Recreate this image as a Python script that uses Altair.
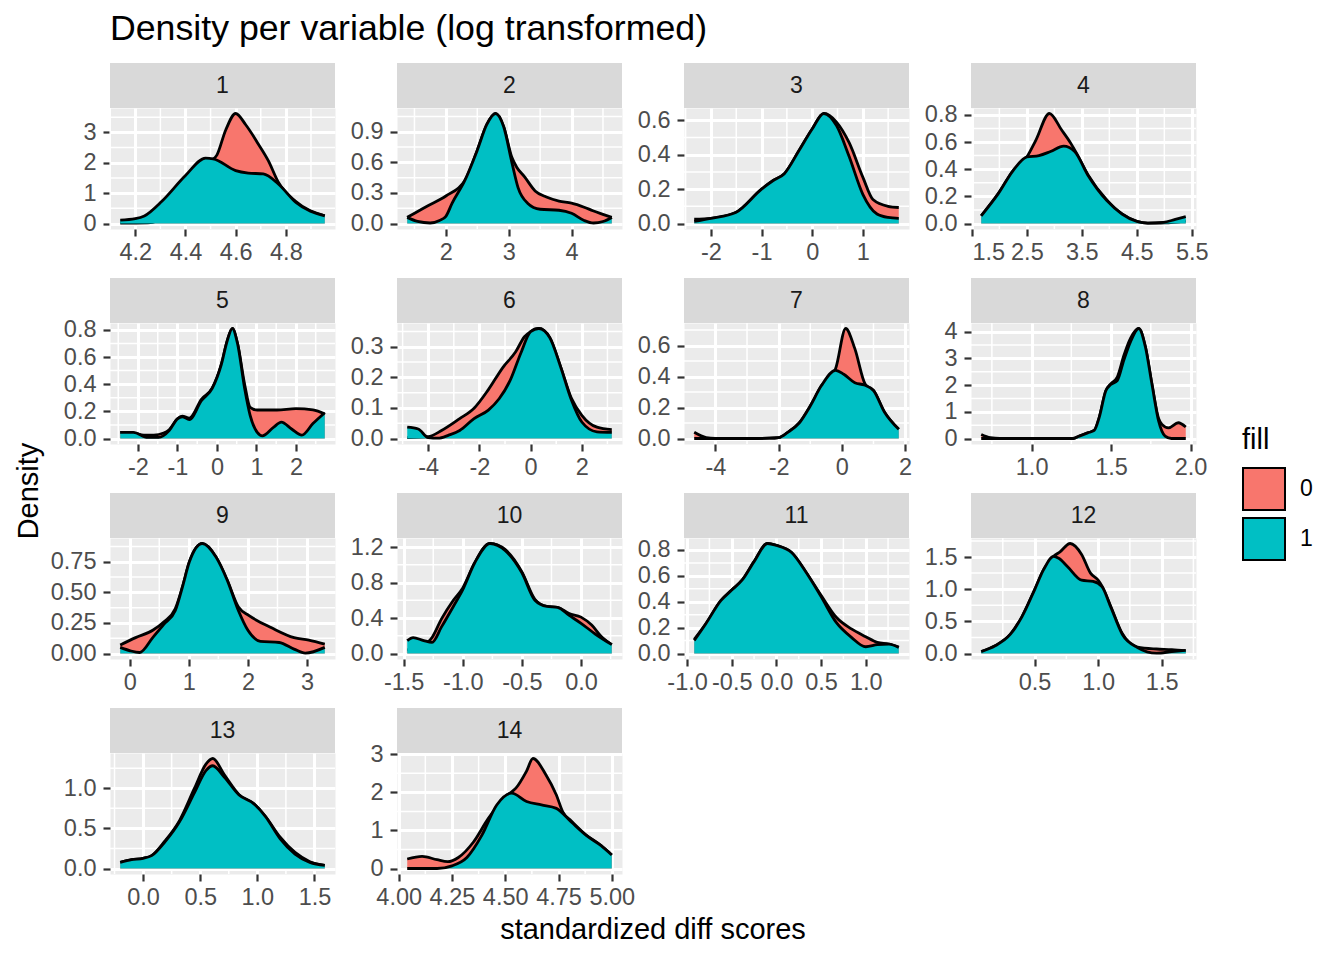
import altair as alt
import pandas as pd

RED = "#F8766D"
TEAL = "#00BFC4"
FONT = "Liberation Sans"
MINUS = "\u2212"

# variable 1
v1_red_x = [4.14, 4.25, 4.33, 4.42, 4.50, 4.525, 4.56, 4.60, 4.64, 4.69, 4.73, 4.77, 4.84, 4.955]
v1_red_y = [0.01, 0.02, 0.3, 1.2, 2.05, 2.25, 3.07, 3.62, 3.25, 2.62, 2.07, 1.36, 0.72, 0.25]
v1_teal_x = [4.14, 4.2, 4.236, 4.308, 4.40, 4.48, 4.51, 4.60, 4.65, 4.71, 4.77, 4.84, 4.955]
v1_teal_y = [0.11, 0.16, 0.25, 0.75, 1.58, 2.15, 2.13, 1.74, 1.66, 1.63, 1.30, 0.69, 0.25]
v1_xticks = [4.2, 4.4, 4.6, 4.8]
v1_yticks = [0, 1, 2, 3]

# variable 2
v2_red_x = [1.385, 1.7, 2.0, 2.3, 2.5, 2.65, 2.79, 2.92, 3.05, 3.13, 3.25, 3.42, 3.6, 3.8, 4.0, 4.2, 4.34, 4.64]
v2_red_y = [0.06, 0.17, 0.27, 0.42, 0.72, 0.97, 1.08, 0.95, 0.65, 0.55, 0.46, 0.32, 0.26, 0.22, 0.2, 0.16, 0.125, 0.06]
v2_teal_x = [1.385, 1.55, 1.75, 1.9, 2.0, 2.1, 2.3, 2.5, 2.65, 2.79, 2.92, 3.05, 3.15, 3.3, 3.5, 3.8, 4.0, 4.2, 4.35, 4.5, 4.64]
v2_teal_y = [0.06, 0.02, 0.005, 0.03, 0.07, 0.2, 0.42, 0.72, 0.97, 1.08, 0.95, 0.6, 0.35, 0.2, 0.14, 0.13, 0.1, 0.03, 0.005, 0.02, 0.06]
v2_xticks = [2, 3, 4]
v2_yticks = [0, 0.3, 0.6, 0.9]

# variable 3
v3_red_x = [-2.33, -2.0, -1.51, -1.0, -0.77, -0.55, -0.26, 0.0, 0.23, 0.48, 0.73, 1.0, 1.2, 1.5, 1.71]
v3_red_y = [0.025, 0.03, 0.064, 0.2, 0.25, 0.29, 0.425, 0.55, 0.64, 0.59, 0.47, 0.27, 0.14, 0.1, 0.093]
v3_teal_x = [-2.33, -2.0, -1.51, -1.0, -0.77, -0.55, -0.26, 0.0, 0.23, 0.48, 0.73, 1.0, 1.28, 1.5, 1.71]
v3_teal_y = [0.012, 0.03, 0.064, 0.2, 0.25, 0.29, 0.425, 0.55, 0.64, 0.57, 0.39, 0.17, 0.055, 0.035, 0.03]
v3_xticks = [-2, -1, 0, 1]
v3_yticks = [0, 0.2, 0.4, 0.6]

# variable 4
v4_red_x = [1.67, 1.98, 2.25, 2.5, 2.66, 2.91, 3.13, 3.3, 3.4, 3.61, 3.95, 4.23, 4.5, 4.7, 5.0, 5.39]
v4_red_y = [0.057, 0.22, 0.39, 0.49, 0.61, 0.81, 0.69, 0.59, 0.52, 0.36, 0.175, 0.07, 0.015, 0.003, 0.004, 0.02]
v4_teal_x = [1.67, 1.98, 2.25, 2.5, 2.72, 2.93, 3.17, 3.37, 3.61, 3.95, 4.23, 4.5, 4.7, 4.98, 5.2, 5.39]
v4_teal_y = [0.057, 0.22, 0.39, 0.49, 0.50, 0.53, 0.57, 0.53, 0.355, 0.17, 0.07, 0.015, 0.003, 0.008, 0.03, 0.05]
v4_xticks = [1.5, 2.5, 3.5, 4.5, 5.5]
v4_yticks = [0, 0.2, 0.4, 0.6, 0.8]

# variable 5
v5_red_x = [-2.45, -2.12, -1.85, -1.6, -1.35, -1.21, -1.0, -0.88, -0.7, -0.39, -0.12, 0.11, 0.26, 0.39, 0.52, 0.70, 0.84, 1.02, 1.52, 2.0, 2.43, 2.73]
v5_red_y = [0.045, 0.04, 0.025, 0.025, 0.04, 0.065, 0.145, 0.165, 0.15, 0.29, 0.37, 0.545, 0.72, 0.81, 0.70, 0.40, 0.23, 0.21, 0.21, 0.22, 0.21, 0.18]
v5_teal_x = [-2.45, -2.12, -1.75, -1.48, -1.21, -1.0, -0.88, -0.7, -0.39, -0.12, 0.11, 0.26, 0.39, 0.52, 0.70, 0.84, 1.02, 1.15, 1.43, 1.63, 1.89, 2.15, 2.43, 2.73]
v5_teal_y = [0.045, 0.045, 0.008, 0.008, 0.058, 0.145, 0.16, 0.14, 0.28, 0.37, 0.545, 0.72, 0.81, 0.70, 0.37, 0.17, 0.045, 0.02, 0.082, 0.12, 0.07, 0.025, 0.11, 0.19]
v5_xticks = [-2, -1, 0, 1, 2]
v5_yticks = [0, 0.2, 0.4, 0.6, 0.8]

# variable 6
v6_red_x = [-4.82, -4.0, -3.48, -2.77, -2.21, -1.65, -1.08, -0.59, -0.24, 0.0, 0.32, 0.75, 1.17, 1.59, 2.0, 2.59, 3.17]
v6_red_y = [0.003, 0.006, 0.026, 0.065, 0.099, 0.16, 0.233, 0.283, 0.333, 0.35, 0.36, 0.33, 0.235, 0.132, 0.076, 0.037, 0.029]
v6_teal_x = [-4.82, -4.39, -4.0, -3.62, -3.2, -2.77, -2.21, -1.65, -1.23, -0.80, -0.38, 0.0, 0.32, 0.75, 1.17, 1.59, 2.0, 2.59, 3.17]
v6_teal_y = [0.037, 0.031, 0.003, 0.001, 0.011, 0.026, 0.065, 0.093, 0.13, 0.19, 0.28, 0.35, 0.36, 0.33, 0.235, 0.127, 0.054, 0.022, 0.02]
v6_xticks = [-4, -2, 0, 2]
v6_yticks = [0, 0.1, 0.2, 0.3]

# variable 7
v7_red_x = [-4.67, -4.29, -4.0, -3.0, -2.3, -2.0, -1.71, -1.35, -1.0, -0.65, -0.2, 0.12, 0.41, 0.74, 1.0, 1.35, 1.8]
v7_red_y = [0.04, 0.006, 0.001, 0.0, 0.002, 0.006, 0.04, 0.10, 0.21, 0.34, 0.45, 0.71, 0.58, 0.35, 0.31, 0.17, 0.06]
v7_teal_x = [-4.67, -4.0, -3.0, -2.3, -2.0, -1.71, -1.35, -1.0, -0.65, -0.2, 0.06, 0.41, 0.71, 1.0, 1.35, 1.8]
v7_teal_y = [0.0, 0.0, 0.0, 0.002, 0.006, 0.04, 0.10, 0.21, 0.34, 0.44, 0.415, 0.36, 0.345, 0.31, 0.17, 0.06]
v7_xticks = [-4, -2, 0, 2]
v7_yticks = [0, 0.2, 0.4, 0.6]

# variable 8
v8_red_x = [0.683, 0.74, 0.8, 1.0, 1.26, 1.30, 1.353, 1.394, 1.425, 1.467, 1.498, 1.539, 1.58, 1.622, 1.674, 1.716, 1.757, 1.799, 1.82, 1.861, 1.923, 1.97]
v8_red_y = [0.15, 0.03, 0.0, 0.0, 0.0, 0.09, 0.21, 0.30, 0.78, 1.79, 2.05, 2.3, 3.1, 3.75, 4.12, 3.43, 2.04, 0.75, 0.53, 0.40, 0.59, 0.43]
v8_teal_x = [0.683, 0.8, 1.0, 1.26, 1.30, 1.353, 1.394, 1.425, 1.467, 1.498, 1.539, 1.58, 1.622, 1.674, 1.716, 1.757, 1.799, 1.84, 1.88, 1.97]
v8_teal_y = [0.0, 0.0, 0.0, 0.0, 0.09, 0.21, 0.30, 0.78, 1.79, 2.02, 2.17, 2.93, 3.62, 4.12, 3.43, 2.04, 0.66, 0.09, 0.0, 0.0]
v8_xticks = [1.0, 1.5, 2.0]
v8_yticks = [0, 1, 2, 3, 4]

# variable 9
v9_red_x = [-0.16, 0.1, 0.39, 0.58, 0.77, 0.89, 1.01, 1.23, 1.46, 1.65, 1.84, 2.02, 2.40, 2.78, 3.03, 3.30]
v9_red_y = [0.07, 0.13, 0.19, 0.26, 0.365, 0.54, 0.75, 0.90, 0.79, 0.60, 0.38, 0.31, 0.21, 0.13, 0.11, 0.077]
v9_teal_x = [-0.16, 0.01, 0.17, 0.39, 0.58, 0.77, 0.89, 1.01, 1.23, 1.46, 1.65, 1.84, 2.0, 2.21, 2.53, 2.78, 2.97, 3.30]
v9_teal_y = [0.05, 0.022, 0.008, 0.13, 0.24, 0.35, 0.54, 0.75, 0.90, 0.79, 0.60, 0.35, 0.19, 0.10, 0.09, 0.036, 0.003, 0.05]
v9_xticks = [0, 1, 2, 3]
v9_yticks = [0, 0.25, 0.5, 0.75]

# variable 10
v10_red_x = [-1.47, -1.35, -1.26, -1.18, -1.08, -1.0, -0.90, -0.77, -0.64, -0.5, -0.39, -0.29, -0.2, -0.1, 0.0, 0.09, 0.18, 0.26]
v10_red_y = [0.04, 0.08, 0.18, 0.39, 0.60, 0.74, 1.02, 1.24, 1.17, 0.92, 0.61, 0.53, 0.52, 0.45, 0.41, 0.32, 0.18, 0.10]
v10_teal_x = [-1.47, -1.42, -1.33, -1.26, -1.18, -1.08, -1.0, -0.90, -0.77, -0.64, -0.5, -0.39, -0.29, -0.2, -0.1, 0.0, 0.12, 0.26]
v10_teal_y = [0.145, 0.18, 0.145, 0.126, 0.30, 0.53, 0.72, 1.02, 1.24, 1.16, 0.91, 0.60, 0.53, 0.52, 0.43, 0.34, 0.22, 0.10]
v10_xticks = [-1.5, -1.0, -0.5, 0.0]
v10_yticks = [0, 0.4, 0.8, 1.2]

# variable 11
v11_red_x = [-0.92, -0.79, -0.62, -0.5, -0.38, -0.25, -0.10, 0.0, 0.17, 0.33, 0.5, 0.67, 0.84, 1.0, 1.13, 1.26, 1.37]
v11_red_y = [0.11, 0.23, 0.41, 0.49, 0.57, 0.71, 0.85, 0.835, 0.78, 0.63, 0.45, 0.28, 0.19, 0.13, 0.086, 0.073, 0.05]
v11_teal_x = [-0.92, -0.79, -0.62, -0.5, -0.38, -0.25, -0.10, 0.0, 0.17, 0.33, 0.5, 0.67, 0.84, 1.0, 1.13, 1.26, 1.37]
v11_teal_y = [0.10, 0.23, 0.41, 0.49, 0.57, 0.71, 0.85, 0.835, 0.78, 0.63, 0.44, 0.24, 0.125, 0.052, 0.068, 0.073, 0.047]
v11_xticks = [-1.0, -0.5, 0.0, 0.5, 1.0]
v11_yticks = [0, 0.2, 0.4, 0.6, 0.8]

# variable 12
v12_red_x = [0.08, 0.19, 0.31, 0.40, 0.5, 0.57, 0.65, 0.70, 0.78, 0.87, 0.94, 1.0, 1.03, 1.10, 1.19, 1.31, 1.46, 1.58, 1.69]
v12_red_y = [0.03, 0.12, 0.30, 0.57, 0.99, 1.30, 1.51, 1.58, 1.71, 1.54, 1.25, 1.14, 1.05, 0.73, 0.31, 0.10, 0.07, 0.06, 0.04]
v12_teal_x = [0.08, 0.19, 0.31, 0.40, 0.5, 0.57, 0.65, 0.69, 0.76, 0.87, 0.96, 1.03, 1.10, 1.19, 1.31, 1.46, 1.58, 1.69]
v12_teal_y = [0.03, 0.12, 0.30, 0.57, 0.99, 1.30, 1.51, 1.48, 1.35, 1.14, 1.12, 1.04, 0.72, 0.30, 0.094, 0.005, 0.03, 0.05]
v12_xticks = [0.5, 1.0, 1.5]
v12_yticks = [0, 0.5, 1.0, 1.5]

# variable 13
v13_red_x = [-0.20, -0.10, 0.0, 0.075, 0.19, 0.32, 0.45, 0.55, 0.61, 0.71, 0.84, 0.97, 1.07, 1.20, 1.33, 1.46, 1.59]
v13_red_y = [0.076, 0.11, 0.127, 0.16, 0.34, 0.60, 1.0, 1.3, 1.37, 1.17, 0.92, 0.805, 0.65, 0.39, 0.2, 0.085, 0.04]
v13_teal_x = [-0.20, -0.10, 0.0, 0.075, 0.19, 0.32, 0.45, 0.55, 0.61, 0.71, 0.84, 0.97, 1.07, 1.20, 1.33, 1.46, 1.59]
v13_teal_y = [0.076, 0.11, 0.127, 0.16, 0.33, 0.585, 0.945, 1.22, 1.28, 1.14, 0.915, 0.805, 0.65, 0.37, 0.18, 0.076, 0.04]
v13_xticks = [0.0, 0.5, 1.0, 1.5]
v13_yticks = [0, 0.5, 1.0]

# variable 14
v14_red_x = [4.04, 4.11, 4.18, 4.23, 4.28, 4.35, 4.42, 4.51, 4.55, 4.60, 4.63, 4.69, 4.74, 4.77, 4.81, 4.88, 4.95, 5.0]
v14_red_y = [0.25, 0.32, 0.23, 0.18, 0.29, 0.69, 1.31, 1.93, 2.11, 2.56, 2.89, 2.47, 1.93, 1.49, 1.25, 0.88, 0.60, 0.355]
v14_teal_x = [4.04, 4.18, 4.25, 4.32, 4.39, 4.46, 4.53, 4.60, 4.67, 4.74, 4.81, 4.88, 4.95, 5.0]
v14_teal_y = [0.0, 0.0, 0.07, 0.29, 0.87, 1.67, 1.98, 1.76, 1.67, 1.58, 1.22, 0.87, 0.60, 0.355]
v14_xticks = [4.0, 4.25, 4.5, 4.75, 5.0]
v14_yticks = [0, 1, 2, 3]

panels = [
    (1, v1_red_x, v1_red_y, v1_teal_x, v1_teal_y, v1_xticks, v1_yticks, ".1f", "d"),
    (2, v2_red_x, v2_red_y, v2_teal_x, v2_teal_y, v2_xticks, v2_yticks, "d", ".1f"),
    (3, v3_red_x, v3_red_y, v3_teal_x, v3_teal_y, v3_xticks, v3_yticks, "d", ".1f"),
    (4, v4_red_x, v4_red_y, v4_teal_x, v4_teal_y, v4_xticks, v4_yticks, ".1f", ".1f"),
    (5, v5_red_x, v5_red_y, v5_teal_x, v5_teal_y, v5_xticks, v5_yticks, "d", ".1f"),
    (6, v6_red_x, v6_red_y, v6_teal_x, v6_teal_y, v6_xticks, v6_yticks, "d", ".1f"),
    (7, v7_red_x, v7_red_y, v7_teal_x, v7_teal_y, v7_xticks, v7_yticks, "d", ".1f"),
    (8, v8_red_x, v8_red_y, v8_teal_x, v8_teal_y, v8_xticks, v8_yticks, ".1f", "d"),
    (9, v9_red_x, v9_red_y, v9_teal_x, v9_teal_y, v9_xticks, v9_yticks, "d", ".2f"),
    (10, v10_red_x, v10_red_y, v10_teal_x, v10_teal_y, v10_xticks, v10_yticks, ".1f", ".1f"),
    (11, v11_red_x, v11_red_y, v11_teal_x, v11_teal_y, v11_xticks, v11_yticks, ".1f", ".1f"),
    (12, v12_red_x, v12_red_y, v12_teal_x, v12_teal_y, v12_xticks, v12_yticks, ".1f", ".1f"),
    (13, v13_red_x, v13_red_y, v13_teal_x, v13_teal_y, v13_xticks, v13_yticks, ".1f", ".1f"),
    (14, v14_red_x, v14_red_y, v14_teal_x, v14_teal_y, v14_xticks, v14_yticks, ".2f", "d"),
]

W, H = 225, 121
STRIP = 45

color = alt.Color(
    "fill:N",
    scale=alt.Scale(domain=["0", "1"], range=[RED, TEAL]),
    legend=alt.Legend(
        title="fill", orient="none", legendX=1132, legendY=318,
        symbolType="square", symbolSize=1764, symbolStrokeColor="black",
        symbolStrokeWidth=2, rowPadding=0, labelOffset=14,
        labelFont=FONT, labelFontSize=23, labelColor="black",
        titleFont=FONT, titleFontSize=29, titleFontWeight="normal",
        titleColor="black", titlePadding=12,
    ),
)


def minor(ticks, lo, hi):
    step = ticks[1] - ticks[0]
    vals = [t + step / 2 for t in [ticks[0] - step] + list(ticks)]
    return [v for v in vals if lo < v < hi]


def label_expr(fmt):
    return f"replace(format(datum.value, '{fmt}'), '{MINUS}', '-')"


def make_panel(num, rx, ry, tx, ty, xticks, yticks, xfmt, yfmt):
    xlo, xhi = min(rx + tx), max(rx + tx)
    pad = (xhi - xlo) * 0.05
    xdom = [xlo - pad, xhi + pad]
    ytop = max(ry + ty)
    ydom = [-0.05 * ytop, 1.05 * ytop]

    x = alt.X("x:Q", scale=alt.Scale(domain=xdom, nice=False, zero=False),
              axis=alt.Axis(values=xticks, labelExpr=label_expr(xfmt), title=None,
                            labelPadding=4))
    y = alt.Y("density:Q", scale=alt.Scale(domain=ydom, nice=False, zero=False),
              axis=alt.Axis(values=yticks, labelExpr=label_expr(yfmt), title=None,
                            labelPadding=7))

    red = pd.DataFrame({"x": rx, "density": ry, "fill": "0"})
    teal = pd.DataFrame({"x": tx, "density": ty, "fill": "1"})
    mx = pd.DataFrame({"x": minor(xticks, *xdom)})
    my = pd.DataFrame({"density": minor(yticks, *ydom)})
    lab = pd.DataFrame({"label": [str(num)]})

    layers = [
        alt.Chart(mx).mark_rule(color="white", strokeWidth=1.5).encode(x=x),
        alt.Chart(my).mark_rule(color="white", strokeWidth=1.5).encode(y=y),
    ]
    for df in (red, teal):
        layers.append(alt.Chart(df).mark_area(interpolate="monotone").encode(
            x=x, y=y, y2=alt.datum(0), color=color))
        layers.append(alt.Chart(df).mark_line(
            interpolate="monotone", color="black", strokeWidth=2.8).encode(x=x, y=y))
    layers.append(alt.Chart(lab).mark_rect(color="#D9D9D9").encode(
        x=alt.value(0), x2=alt.value(W), y=alt.value(-STRIP), y2=alt.value(0)))
    layers.append(alt.Chart(lab).mark_text(
        font=FONT, fontSize=23, color="#1A1A1A", baseline="middle", align="center"
    ).encode(x=alt.value(W / 2), y=alt.value(-STRIP / 2), text="label:N"))

    if num == 1:
        # anchor the page corner and the overall title
        layers.append(alt.Chart(lab).mark_rect(color="white").encode(
            x=alt.value(-102), x2=alt.value(-101), y=alt.value(-100), y2=alt.value(-99)))
        layers.append(alt.Chart(pd.DataFrame({"t": ["Density per variable (log transformed)"]})).mark_text(
            font=FONT, fontSize=35.7, color="black", align="left", baseline="alphabetic"
        ).encode(x=alt.value(0), y=alt.value(-68), text="t:N"))
    if num == 9:
        layers.append(alt.Chart(pd.DataFrame({"t": ["Density"]})).mark_text(
            font=FONT, fontSize=29, color="black", align="center", baseline="alphabetic", angle=270
        ).encode(x=alt.value(-72), y=alt.value(-47), text="t:N"))
    if num == 14:
        layers.append(alt.Chart(pd.DataFrame({"t": ["standardized diff scores"]})).mark_text(
            font=FONT, fontSize=29, color="black", align="center", baseline="alphabetic"
        ).encode(x=alt.value(256), y=alt.value(186), text="t:N"))

    return alt.layer(*layers).properties(width=W, height=H)


charts = [make_panel(*p) for p in panels]

chart = alt.concat(
    *charts, columns=4, spacing={"row": 94, "column": 62}, bounds="flush"
).properties(
    padding=0
).configure_view(
    fill="#EBEBEB", strokeOpacity=0
).configure_axis(
    domain=False, grid=True, gridColor="white", gridWidth=3,
    tickColor="#333333", tickSize=7, tickWidth=2.2,
    labelFont=FONT, labelFontSize=23.5, labelColor="#4D4D4D",
)

chart.save("out.html", embed_options={"renderer": "svg", "actions": False})
